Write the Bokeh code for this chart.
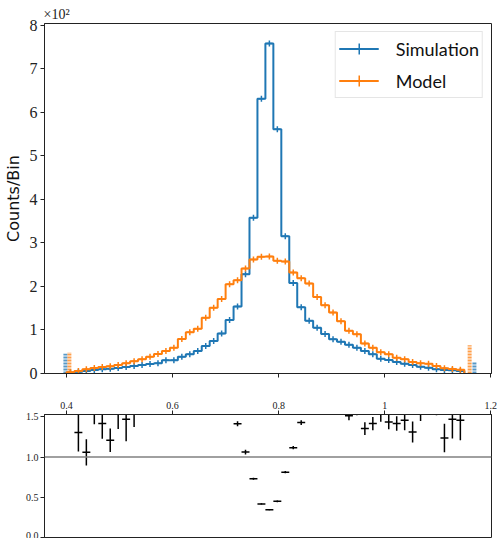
import numpy as np
from bokeh.plotting import figure
from bokeh.layouts import column
from bokeh.models import (Range1d, FixedTicker, Legend, LegendItem, Span,
                          ColumnDataSource, NumeralTickFormatter)
from bokeh.embed import file_html
from bokeh.resources import INLINE

# ---------------- data (counts in units of 10^2) ----------------
bin_low, bin_high, n_bins = 0.4, 1.15, 50

simulation = [0.02, 0.041, 0.057, 0.08, 0.096, 0.11, 0.126, 0.149, 0.172, 0.195,
              0.218, 0.234, 0.303, 0.303, 0.387, 0.44, 0.517, 0.632, 0.747, 0.92,
              1.23, 1.54, 2.28, 3.58, 6.31, 7.58, 5.61, 3.15, 2.08, 1.52,
              1.21, 1.05, 0.91, 0.786, 0.73, 0.66, 0.59, 0.517, 0.44, 0.34,
              0.31, 0.264, 0.226, 0.195, 0.157, 0.134, 0.096, 0.08, 0.073, 0.057]

model = [0.03, 0.057, 0.096, 0.126, 0.149, 0.165, 0.195, 0.234, 0.28, 0.326,
         0.387, 0.448, 0.517, 0.594, 0.793, 0.946, 1.03, 1.28, 1.51, 1.71,
         2.05, 2.14, 2.41, 2.62, 2.68, 2.685, 2.59, 2.57, 2.32, 2.19,
         2.07, 1.76, 1.57, 1.40, 1.20, 0.98, 0.90, 0.69, 0.59, 0.49,
         0.44, 0.36, 0.325, 0.264, 0.234, 0.226, 0.172, 0.12, 0.103, 0.088]

# Model / Simulation ratio and its uncertainty per bin
ratio = [float("nan"), 1.305, 1.06, 1.61, 1.417, 1.21, 1.55, 1.471, 1.55, 1.67,
         1.78, 1.9, 1.7, 1.96, 2.05, 2.15, 2.0, 2.0, 2.0, 1.88,
         1.67, 1.415, 1.063, 0.73, 0.417, 0.346, 0.45, 0.813, 1.117, 1.43,
         1.71, 1.68, 1.72, 1.78, 1.64, 1.515, 1.6, 1.355, 1.417, 1.54,
         1.438, 1.417, 1.459, 1.313, 1.58, 1.75, 1.7, 1.238, 1.471, 1.459]
ratio_err = [float("nan"), 0.235, 0.163, 0.2, 0.19, 0.145, 0.2, 0.275, 0.175, 0.1,
             0.1, 0.1, 0.08, 0.08, 0.07, 0.06, 0.06, 0.05, 0.05, 0.04,
             0.04, 0.03, 0.03, 0.012, 0.008, 0.006, 0.01, 0.015, 0.02, 0.03,
             0.04, 0.04, 0.05, 0.05, 0.05, 0.055, 0.08, 0.08, 0.083, 0.1,
             0.09, 0.09, 0.125, 0.13, 0.13, 0.15, 0.18, 0.177, 0.24, 0.25]

# under/overflow entries
flow_sim_x = [0.398, 1.169]
flow_sim = [0.455, 0.25]
flow_model_x = [0.4055, 1.160]
flow_model = [0.49, 0.65]

x_ticks = [0.4, 0.6, 0.8, 1.0, 1.2]
y_ticks_top = [0, 1, 2, 3, 4, 5, 6, 7, 8]
y_ticks_ratio = [0.0, 0.5, 1.0, 1.5]

BLUE = "#1f77b4"
ORANGE = "#ff7f0e"
SERIF = "Liberation Serif"

edges = np.linspace(bin_low, bin_high, n_bins + 1)
centers = 0.5 * (edges[:-1] + edges[1:])


def stairs(vals):
    xs, ys = [edges[0]], [0.0]
    for i, v in enumerate(vals):
        xs += [edges[i], edges[i + 1]]
        ys += [v, v]
    xs.append(edges[-1])
    ys.append(0.0)
    return xs, ys


def style_axes(p, size_y):
    p.grid.visible = False
    p.outline_line_color = "#222222"
    p.outline_line_width = 1
    p.background_fill_color = "white"
    p.border_fill_color = "white"
    for ax in (p.xaxis + p.yaxis):
        ax.minor_tick_line_color = None
        ax.major_tick_in = 0
        ax.major_tick_out = 4
        ax.axis_line_color = "#222222"
        ax.major_tick_line_color = "#222222"
        ax.major_label_text_font = SERIF
        ax.major_label_text_color = "#222222"
    p.yaxis.major_label_text_font_size = size_y


# ---------------- top panel ----------------
x_range = Range1d(0.3586, 1.2012)
p1 = figure(width=497, height=388, x_range=x_range, y_range=Range1d(0, 8.04),
            output_backend="svg", toolbar_location=None,
            min_border_left=43, min_border_right=6, min_border_top=23, min_border_bottom=15)
style_axes(p1, "16px")
p1.xaxis.ticker = FixedTicker(ticks=x_ticks)
p1.xaxis.major_label_overrides = {t: "" for t in x_ticks}
p1.xaxis.major_label_text_font_size = "1px"
p1.xaxis.major_label_standoff = 0
p1.yaxis.ticker = FixedTicker(ticks=y_ticks_top)
p1.yaxis.major_label_standoff = 3
p1.yaxis.axis_label = "Counts/Bin"
p1.yaxis.axis_label_text_font = "DejaVu Sans"
p1.yaxis.axis_label_text_font_size = "16px"
p1.yaxis.axis_label_text_font_style = "normal"
p1.yaxis.axis_label_text_color = "#111111"
p1.yaxis.axis_label_standoff = 4

p1.title.text = "×10²"
p1.title.align = "left"
p1.title.offset = -1
p1.title.standoff = 4
p1.title.text_font = SERIF
p1.title.text_font_size = "14px"
p1.title.text_font_style = "normal"
p1.title.text_color = "#222222"

sx, sy = stairs(simulation)
mx, my = stairs(model)

p1.segment(x0=flow_sim_x, y0=[0, 0], x1=flow_sim_x, y1=flow_sim,
           line_color=BLUE, line_width=4, line_dash="2 1", line_alpha=0.75)
p1.segment(x0=flow_model_x, y0=[0, 0], x1=flow_model_x, y1=flow_model,
           line_color=ORANGE, line_width=4, line_dash="2 1", line_alpha=0.75)

sim_line = p1.line(sx, sy, line_color=BLUE, line_width=2)
sim_tick = p1.scatter(centers, simulation, marker="cross", size=6,
                      line_color=BLUE, line_width=1.5)
mod_line = p1.line(mx, my, line_color=ORANGE, line_width=2)
mod_tick = p1.scatter(centers, model, marker="cross", size=6,
                      line_color=ORANGE, line_width=1.5)

legend = Legend(items=[LegendItem(label="Simulation", renderers=[sim_line, sim_tick]),
                       LegendItem(label="Model", renderers=[mod_line, mod_tick])],
                location="top_right", margin=8, padding=3, spacing=5,
                glyph_width=40, glyph_height=27, label_height=20, label_standoff=17,
                label_text_font="Lato", label_text_font_size="18px",
                label_text_color="#111111",
                border_line_color="#cccccc", border_line_width=1,
                background_fill_color="white", background_fill_alpha=0.8)
p1.add_layout(legend, "center")

# ---------------- ratio panel ----------------
p2 = figure(width=497, height=150, x_range=x_range, y_range=Range1d(0, 1.53),
            x_axis_location="above", output_backend="svg", toolbar_location=None,
            min_border_left=43, min_border_right=6, min_border_top=26, min_border_bottom=1)
style_axes(p2, "10px")
p2.xaxis.ticker = FixedTicker(ticks=x_ticks)
p2.xaxis.major_label_text_font_size = "10px"
p2.xaxis.major_label_standoff = 2
p2.yaxis.ticker = FixedTicker(ticks=y_ticks_ratio)
p2.yaxis.formatter = NumeralTickFormatter(format="0.0")
p2.yaxis.major_label_standoff = 2

p2.add_layout(Span(location=1.0, dimension="width", line_color="#808080", line_width=1.5))

r = np.array(ratio, dtype=float)
e = np.array(ratio_err, dtype=float)
ok = ~np.isnan(r)
src = ColumnDataSource(dict(xc=centers[ok], xl=edges[:-1][ok], xr=edges[1:][ok],
                            r=r[ok], lo=(r - e)[ok], hi=(r + e)[ok]))
p2.segment(x0="xc", y0="lo", x1="xc", y1="hi", source=src, line_color="black", line_width=1.5)
p2.segment(x0="xl", y0="r", x1="xr", y1="r", source=src, line_color="black", line_width=1.5)

layout = column(p1, p2, spacing=0)
open("out.html", "w").write(file_html(layout, INLINE))
